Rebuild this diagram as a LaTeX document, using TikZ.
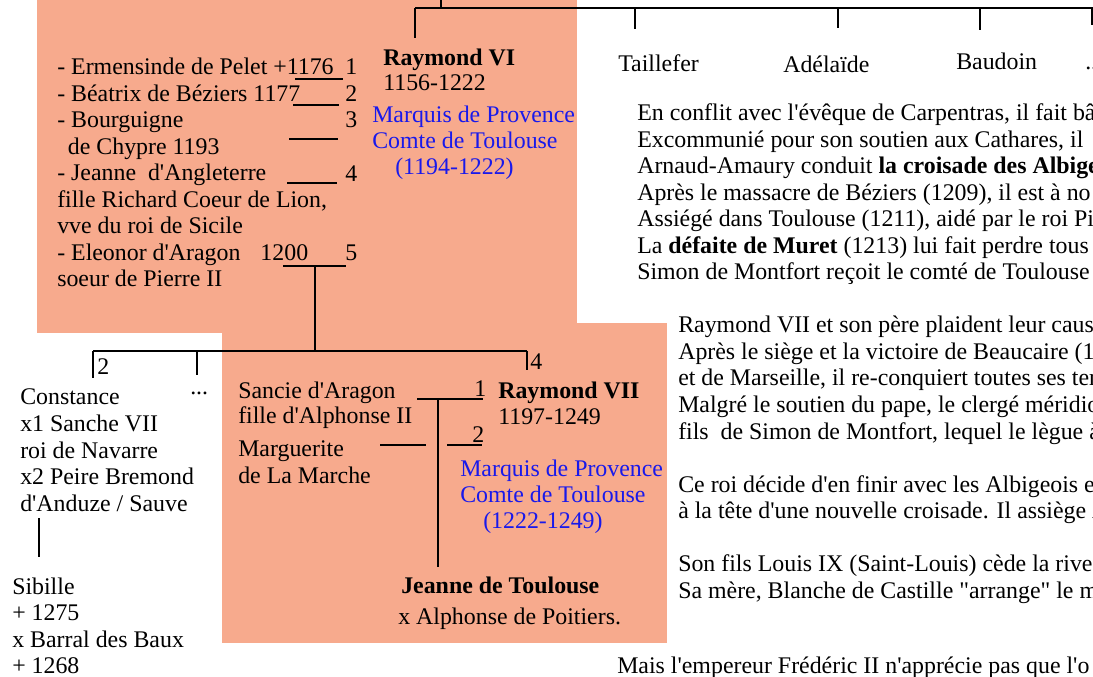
\documentclass[tikz,border=0pt]{standalone}
\usepackage{fontspec}
\setmainfont{Liberation Serif}[Ligatures=TeXOff]
\usetikzlibrary{positioning}
\definecolor{saumon}{RGB}{247,170,141}
\definecolor{bleutitre}{RGB}{25,25,235}
\tikzset{
    txt/.style={anchor=base west,inner sep=0pt,font=\fontsize{17.9}{20}\selectfont},
    gras/.style={txt,font=\fontsize{17.9}{20}\selectfont\bfseries},
    titre/.style={txt,text=bleutitre},
    lien/.style={draw,line width=1pt},
    fond/.style={fill=saumon,draw=none},
}

\begin{document}
\begin{tikzpicture}[x=0.75pt,y=-0.75pt]
    \useasboundingbox (0,0) rectangle (1093,677);
    \clip (0,0) rectangle (1093,677);
    % fonds
    \path[fond] (37,0) rectangle (577,333);
    \path[fond] (222,323) rectangle (667,643);

    % Raymond VI et ses freres et soeurs
    \node[gras] (r6) at (383,66) {Raymond VI};
    \node[txt] (r6-dates) at (383,91) {1156-1222};
    \node[titre] (r6-t1) at (372,123) {Marquis de Provence};
    \node[titre] (r6-t2) at (372,149) {Comte de Toulouse};
    \node[titre] (r6-t3) at (395,175) {(1194-1222)};
    \node[txt] (taillefer) at (618,72) {Taillefer};
    \node[txt] (adelaide) at (783,73) {Adélaïde};
    \node[txt] (baudoin) at (956,70) {Baudoin};
    \node[txt] (autres) at (1085,70) {...};
    \coordinate (pere) at (441,0);
    \coordinate (barre-g) at (415,8);
    \coordinate (barre-d) at (1093,8);
    \draw[lien,line width=1.5pt] (barre-g) -- (barre-d);
    \draw[lien] (pere) -- (pere |- barre-g);
    \foreach \x/\yb in {415/38,635/29,838/28,980/30,1092/25} {
        \coordinate (tick-\x) at (\x,\yb);
        \draw[lien] (tick-\x |- barre-g) -- (tick-\x);
    }

    % epouses de Raymond VI
    \foreach \ligne [count=\i] in {{- Ermensinde de Pelet +1176},{- Béatrix de Béziers 1177},
        {- Bourguigne},{\hspace{8pt}de Chypre 1193},{- Jeanne\ \ d'Angleterre},
        {fille Richard Coeur de Lion,},{vve du roi de Sicile},
        {- Eleonor d'Aragon\hspace{15pt}1200},{soeur de Pierre II}}
        \node[txt] (epouse-\i) at (57,48.5+26.5*\i) {\ligne};
    \foreach \n/\y in {1/75,2/102,3/128,4/182,5/261}
        \node[txt] (rang-\n) at (345,\y) {\n};
    \foreach \i/\xa/\xb/\y in {1/295/343/79,2/293/339/105,3/289/338/139,4/287/337/183,5/283/346/266} {
        \coordinate (m\i-a) at (\xa,\y);
        \coordinate (m\i-b) at (\xb,\y);
        \draw[lien] (m\i-a) -- (m\i-b);
    }

    % enfants
    \coordinate (m5-enf) at (315,266);
    \coordinate (fratrie-g) at (93,351);
    \coordinate (fratrie-d) at (527,351);
    \coordinate (bas-2) at (93,378);
    \coordinate (bas-x) at (197,375);
    \coordinate (bas-4) at (527,370);
    \draw[lien] (m5-enf) -- (m5-enf |- fratrie-g);
    \draw[lien] (fratrie-g) -- (fratrie-d);
    \draw[lien] (fratrie-g) -- (bas-2);
    \draw[lien] (bas-x |- fratrie-g) -- (bas-x);
    \draw[lien] (fratrie-d) -- (bas-4);
    \node[txt] (lab-2) at (97,375) {2};
    \node[txt] (lab-x) at (190,395) {...};
    \node[txt] (lab-4) at (530,370) {4};

    % Constance et Sibille
    \foreach \ligne [count=\i] in {Constance,x1 Sanche VII,roi de Navarre,x2 Peire Bremond,d'Anduze / Sauve}
        \node[txt] (constance-\i) at (20,378.5+26.5*\i) {\ligne};
    \coordinate (c-haut) at (39,518);
    \coordinate (c-bas) at (39,557);
    \draw[lien] (c-haut) -- (c-bas);
    \foreach \ligne [count=\i] in {Sibille,+ 1275,x Barral des Baux,+ 1268}
        \node[txt] (sibille-\i) at (12,567.5+26.5*\i) {\ligne};

    % Raymond VII
    \node[txt] (sancie) at (238,398) {Sancie d'Aragon};
    \node[txt] (sancie-2) at (238,423) {fille d'Alphonse II};
    \node[txt] (marguerite) at (238,456) {Marguerite};
    \node[txt] (marguerite-2) at (238,483) {de La Marche};
    \node[gras] (r7) at (498,398) {Raymond VII};
    \node[txt] (r7-dates) at (498,424) {1197-1249};
    \node[titre] (r7-t1) at (460,476) {Marquis de Provence};
    \node[titre] (r7-t2) at (460,502) {Comte de Toulouse};
    \node[titre] (r7-t3) at (483,528) {(1222-1249)};
    \node[txt] (r7-1) at (474,397) {1};
    \node[txt] (r7-2) at (472,442) {2};
    \coordinate (n1-a) at (417,399);
    \coordinate (n1-b) at (483,399);
    \coordinate (n2-a) at (380,445);
    \coordinate (n2-b) at (426,445);
    \coordinate (n2-c) at (447,445);
    \coordinate (n2-d) at (482,445);
    \coordinate (jeanne-haut) at (438,567);
    \draw[lien] (n1-a) -- (n1-b);
    \draw[lien] (n2-a) -- (n2-b);
    \draw[lien] (n2-c) -- (n2-d);
    \draw[lien] (jeanne-haut |- n1-a) -- (jeanne-haut);
    \node[gras] (jeanne) at (401,593) {Jeanne de Toulouse};
    \node[txt] (jeanne-2) at (398,624) {x Alphonse de Poitiers.};

    % textes
    \foreach \ligne [count=\i] in {{En conflit avec l'évêque de Carpentras, il fait bâ},
        {Excommunié pour son soutien aux Cathares, il},
        {Arnaud-Amaury conduit \textbf{la croisade des Albige}},
        {Après le massacre de Béziers (1209), il est à no},
        {Assiégé dans Toulouse (1211), aidé par le roi Pi},
        {La \textbf{défaite de Muret} (1213) lui fait perdre tous},
        {Simon de Montfort reçoit le comté de Toulouse}}
        \node[txt] (texte1-\i) at (637,94.5+26.5*\i) {\ligne};
    \foreach \ligne [count=\i] in {{Raymond VII et son père plaident leur caus},
        {Après le siège et la victoire de Beaucaire (1},
        {et de Marseille, il re-conquiert toutes ses ter},
        {Malgré le soutien du pape, le clergé méridio},
        {fils\ \ de Simon de Montfort, lequel le lègue à}}
        \node[txt] (texte2-\i) at (678,306.5+26.5*\i) {\ligne};
    \node[txt] (texte3-1) at (678,492) {Ce roi décide d'en finir avec les Albigeois e};
    \node[txt] (texte3-2) at (678,518.5) {à la tête d'une nouvelle croisade. Il assiège A};
    \node[txt] (texte4-1) at (678,571.5) {Son fils Louis IX (Saint-Louis) cède la rive};
    \node[txt] (texte4-2) at (678,598) {Sa mère, Blanche de Castille "arrange" le m};
    \node[txt] (texte5) at (617,673) {Mais l'empereur Frédéric II n'apprécie pas que l'o};
\end{tikzpicture}
\end{document}
